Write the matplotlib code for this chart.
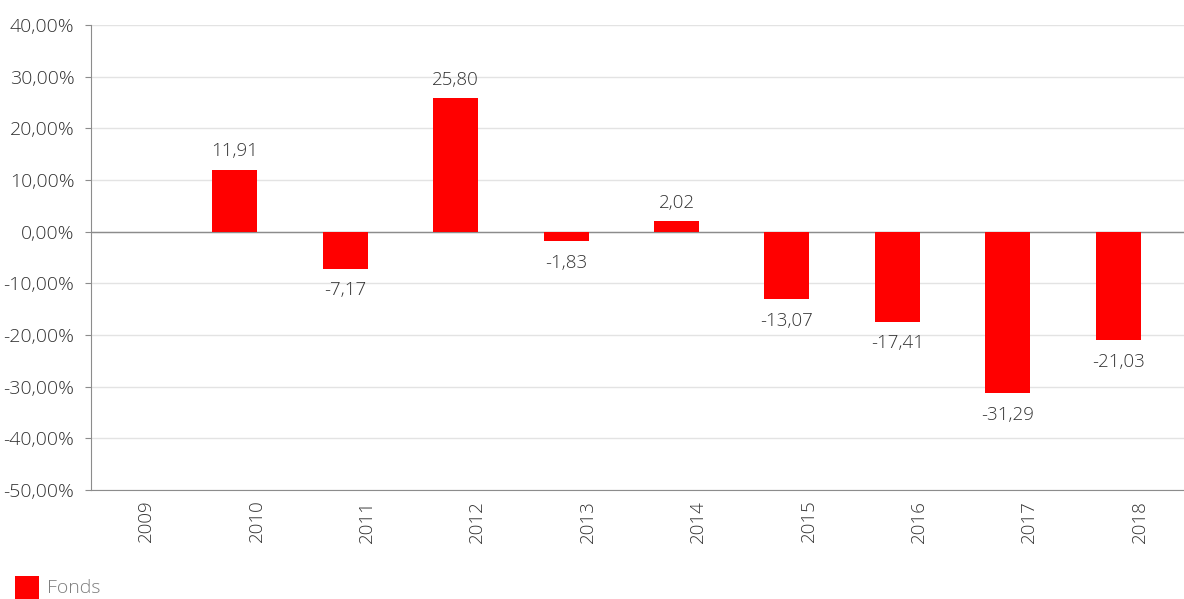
import numpy as np
import matplotlib.pyplot as plt
from matplotlib.patches import Rectangle

years = ['2009', '2010', '2011', '2012', '2013', '2014', '2015', '2016', '2017', '2018']
fonds = [np.nan, 11.91, -7.17, 25.80, -1.83, 2.02, -13.07, -17.41, -31.29, -21.03]
y_ticks = [-50, -40, -30, -20, -10, 0, 10, 20, 30, 40]

RED = '#ff0000'
TEXT = '#333333'

plt.rcParams['font.family'] = ['Open Sans', 'DejaVu Sans']
plt.rcParams['font.weight'] = 'light'

W, H = 1184, 599
fig = plt.figure(figsize=(W / 100, H / 100), dpi=100)
ax = fig.add_axes([91 / W, 109 / H, 1104 / W, 465 / H])

x = np.arange(len(years))
# the original was a two-series cluster with the second series empty,
# so the bar sits in the left half of each category
bw = 0.408
ax.bar(x - 0.196, fonds, width=bw, color=RED, zorder=3)

for xi, v in zip(x, fonds):
    if np.isnan(v):
        continue
    label = f'{v:.2f}'.replace('.', ',')
    if v >= 0:
        ax.annotate(label, (xi - 0.196, v), xytext=(0, 7), textcoords='offset points',
                    ha='center', va='bottom', fontsize=13.5, color=TEXT)
    else:
        ax.annotate(label, (xi - 0.196, v), xytext=(0, -9), textcoords='offset points',
                    ha='center', va='top', fontsize=13.5, color=TEXT)

ax.set_xlim(-0.5, len(years) - 0.5)
ax.set_ylim(-50, 40)
ax.set_yticks(y_ticks)
ax.set_yticklabels([f'{t:.2f}%'.replace('.', ',') for t in y_ticks], fontsize=14, color=TEXT)
ax.set_xticks(x)
ax.set_xticklabels(years, rotation=90, fontsize=13.5, color=TEXT)

ax.grid(axis='y', color='#e3e3e3', linewidth=1, zorder=0)
ax.axhline(0, color='#8c8c8c', linewidth=1, zorder=2)

for s in ['top', 'right']:
    ax.spines[s].set_visible(False)
ax.spines['left'].set_color('#8c8c8c')
ax.spines['bottom'].set_color('#8c8c8c')
ax.tick_params(axis='y', length=4, color='#8c8c8c', pad=8)
ax.tick_params(axis='x', length=0, pad=7)

# legend
fig.patches.append(Rectangle((15 / W, 0), 24 / W, 23 / H, transform=fig.transFigure,
                             facecolor=RED, edgecolor='none'))
fig.text(47 / W, 11 / H, 'Fonds', fontsize=14, color='#7f7f7f', va='center', ha='left')

fig.savefig('out.png', dpi=100, facecolor='white')
